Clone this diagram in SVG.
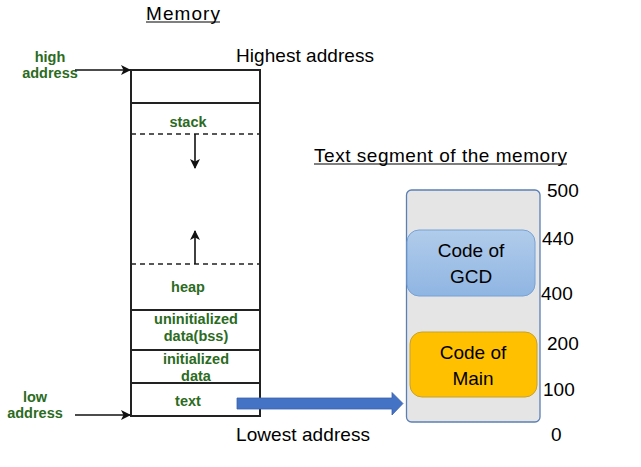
<svg xmlns="http://www.w3.org/2000/svg" width="641" height="467" viewBox="0 0 641 467">
<defs>
<style>
.t{font-family:"Liberation Sans",Arial,sans-serif;font-size:19px;fill:#000}
.g{font-family:"Liberation Sans",Arial,sans-serif;font-size:14.5px;font-weight:bold;fill:#2b6b22;text-anchor:middle}
.ln{stroke:#222;stroke-width:2;fill:none}
.dash{stroke:#222;stroke-width:1.5;stroke-dasharray:5 4;fill:none}
.ar{stroke:#111;stroke-width:1.6;fill:none}
</style>
<marker id="ah" markerWidth="10" markerHeight="10" refX="9" refY="5" orient="auto" markerUnits="userSpaceOnUse">
<path d="M0,0 L10,5 L0,10 L2.5,5 Z" fill="#111"/>
</marker>
<linearGradient id="gcd" x1="0" y1="0" x2="0" y2="1">
<stop offset="0" stop-color="#b1cceb"/>
<stop offset="1" stop-color="#8fb5e2"/>
</linearGradient>
</defs>
<rect width="641" height="467" fill="#fff"/>
<g id="titles">
<text class="t" x="146" y="20" textLength="74">Memory</text>
<line x1="146" y1="22" x2="220" y2="22" stroke="#000" stroke-width="1.2"/>
<text class="t" x="236" y="62" textLength="138">Highest address</text>
<text class="t" x="236" y="441" textLength="134">Lowest address</text>
<text class="t" x="314" y="162" textLength="253">Text segment of the memory</text>
<line x1="314" y1="164" x2="567" y2="164" stroke="#000" stroke-width="1.2"/>
</g>
<g id="memory">
<rect x="131" y="70" width="129" height="346" class="ln"/>
<line x1="131" y1="103" x2="260" y2="103" class="ln"/>
<line x1="131" y1="134" x2="260" y2="134" class="dash"/>
<line x1="131" y1="264" x2="260" y2="264" class="dash"/>
<line x1="131" y1="310" x2="260" y2="310" class="ln"/>
<line x1="131" y1="350" x2="260" y2="350" class="ln"/>
<line x1="131" y1="383" x2="260" y2="383" class="ln"/>
<text class="g" x="188" y="127">stack</text>
<text class="g" x="188" y="292">heap</text>
<text class="g" x="196" y="324">uninitialized</text>
<text class="g" x="196" y="341">data(bss)</text>
<text class="g" x="196" y="364">initialized</text>
<text class="g" x="196" y="381">data</text>
<text class="g" x="188" y="406">text</text>
</g>
<g id="labels">
<text class="g" x="50" y="62">high</text>
<text class="g" x="50" y="78">address</text>
<text class="g" x="35" y="402">low</text>
<text class="g" x="35" y="418">address</text>
</g>
<g id="segment">
<rect x="406.5" y="190" width="133.5" height="232" rx="5" fill="#e5e5e5" stroke="#5b7fb5" stroke-width="1.3"/>
<g id="gcd-node">
<rect x="407" y="230" width="128" height="66" rx="12" fill="url(#gcd)" stroke="#77a2d6" stroke-width="1"/>
<text class="t" x="471" y="257" text-anchor="middle">Code of</text>
<text class="t" x="471" y="283" text-anchor="middle">GCD</text>
</g>
<g id="main-node">
<rect x="410" y="332" width="127" height="65" rx="12" fill="#ffc000" stroke="#c9a227" stroke-width="1"/>
<text class="t" x="473" y="359" text-anchor="middle">Code of</text>
<text class="t" x="473" y="385" text-anchor="middle">Main</text>
</g>
<text class="t" x="547" y="197">500</text>
<text class="t" x="542" y="245">440</text>
<text class="t" x="541" y="300">400</text>
<text class="t" x="547" y="350">200</text>
<text class="t" x="543" y="396">100</text>
<text class="t" x="551" y="441">0</text>
</g>
<g id="connectors">
<line x1="75" y1="70" x2="130" y2="70" class="ar" marker-end="url(#ah)"/>
<line x1="75" y1="415" x2="130" y2="415" class="ar" marker-end="url(#ah)"/>
<line x1="195" y1="134" x2="195" y2="168" class="ar" marker-end="url(#ah)"/>
<line x1="195" y1="264" x2="195" y2="231" class="ar" marker-end="url(#ah)"/>
<path d="M237,398 L392,398 L392,392.5 L403,403.5 L392,415 L392,409 L237,409 Z" fill="#4472c4" stroke="#3a63ad" stroke-width="0.8"/>
</g>
</svg>
